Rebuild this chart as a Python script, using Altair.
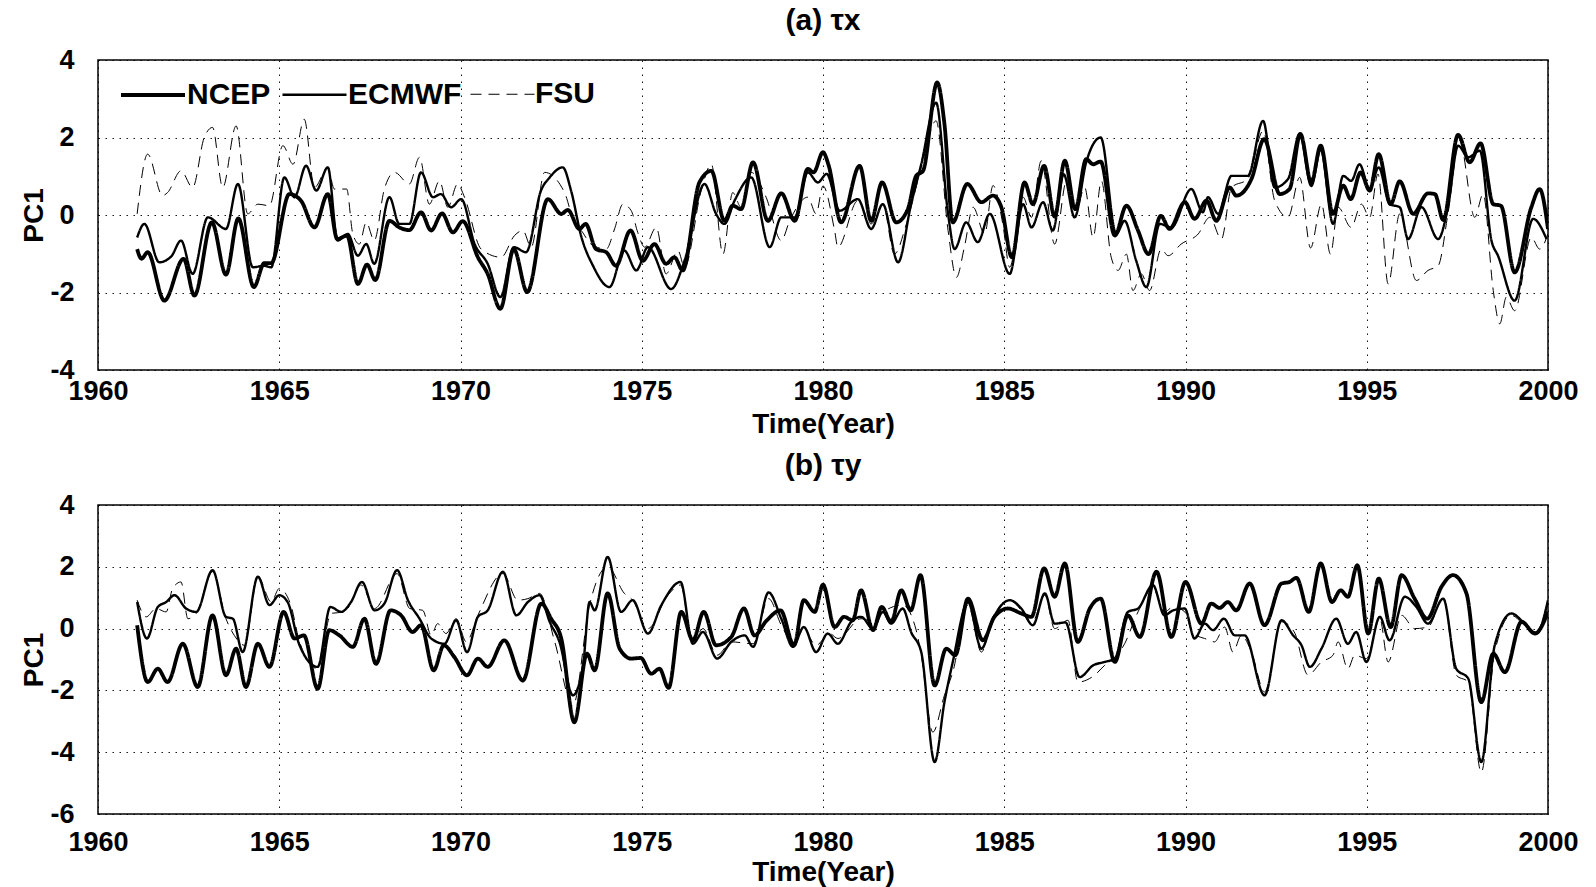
import altair as alt
import pandas as pd

SERIES = ["NCEP", "ECMWF", "FSU"]
X_TICKS = [1960, 1965, 1970, 1975, 1980, 1985, 1990, 1995, 2000]
TOP_Y_TICKS = [-4, -2, 0, 2, 4]
BOT_Y_TICKS = [-6, -4, -2, 0, 2, 4]

# ---------------- (a) tau_x ----------------
TX_NCEP_YEAR = [1961.08, 1961.2, 1961.37, 1961.83, 1962.36, 1962.66, 1963.14, 1963.53, 1963.87, 1964.30,
                1964.59, 1964.78, 1965.28, 1965.6, 1965.97, 1966.34, 1966.6, 1966.87, 1967.17, 1967.42,
                1967.65, 1968.04, 1968.31, 1968.59, 1968.91, 1969.19, 1969.49, 1969.79, 1970.06, 1970.48,
                1970.75, 1971.1, 1971.47, 1971.84, 1972.41, 1972.78, 1972.96, 1973.28, 1973.45, 1973.74,
                1974.02, 1974.29, 1974.69, 1975.03, 1975.35, 1975.67, 1975.90, 1976.13, 1976.59, 1976.92,
                1977.28, 1977.51, 1977.74, 1978.07, 1978.48, 1978.85, 1979.22, 1979.58, 1979.74, 1980.0,
                1980.15, 1980.5, 1981.01, 1981.33, 1981.63, 1982.02, 1982.34, 1982.57, 1982.76, 1983.15,
                1983.35, 1983.58, 1983.98, 1984.37, 1984.69, 1984.92, 1985.21, 1985.56, 1985.79, 1986.1,
                1986.39, 1986.67, 1986.96, 1987.26, 1987.45, 1987.66, 1988.05, 1988.37, 1988.69, 1988.98,
                1989.32, 1989.56, 1989.98, 1990.25, 1990.58, 1990.85, 1991.22, 1991.40, 1991.82, 1992.17,
                1992.6, 1992.87, 1993.17, 1993.47, 1993.73, 1994.07, 1994.35, 1994.56, 1994.83, 1995.08,
                1995.33, 1995.66, 1995.91, 1996.28, 1996.69, 1996.88, 1997.11, 1997.52, 1997.84, 1998.14,
                1998.49, 1998.7, 1999.08, 1999.54, 1999.77, 2000.0]
TX_NCEP_PC1 = [-0.88, -1.13, -0.96, -2.21, -1.13, -2.08, -0.19, -1.54, -0.09, -1.86,
               -1.24, -1.24, 0.54, 0.37, -0.32, 0.54, -0.62, -0.53, -1.78, -1.28,
               -1.68, -0.15, -0.32, -0.39, 0.07, -0.40, 0.04, -0.45, -0.16, -1.09,
               -1.52, -2.42, -0.88, -1.99, 0.41, 0.03, 0.13, -0.36, -0.23, -0.88,
               -0.96, -1.31, -0.40, -1.18, -0.75, -1.26, -1.09, -1.43, 0.84, 1.14,
               -0.15, 0.24, 0.15, 1.36, -0.15, 0.56, -0.15, 1.19, 1.10, 1.62,
               1.30, -0.19, 1.27, -0.15, 0.84, -0.19, 0.15, 1.01, 1.14, 3.42,
               2.35, -0.19, 0.80, 0.33, 0.50, 0.20, -1.09, 0.84, 0.28, 1.27,
               -0.04, 1.40, 0.15, 1.44, 1.31, 1.38, -0.53, 0.24, -0.40, -1.01,
               -0.02, -0.36, 0.33, -0.10, 0.37, -0.15, 0.71, 0.50, 0.93, 1.96,
               0.54, 0.67, 2.09, 0.84, 1.79, 0.03, 0.76, 0.41, 1.10, 0.63,
               1.57, 0.28, 0.87, 0.03, 0.56, 0.54, -0.13, 2.07, 1.36, 1.85,
               0.28, 0.24, -1.48, 0.20, 0.67, -0.36]

TX_ECMWF_YEAR = [1961.08, 1961.28, 1961.69, 1962.02, 1962.29, 1962.61, 1963.03, 1963.53, 1963.86, 1964.27,
                 1964.59, 1964.78, 1965.14, 1965.42, 1965.74, 1966.02, 1966.34, 1966.61, 1966.89, 1967.17,
                 1967.4, 1967.62, 1968.04, 1968.31, 1968.59, 1968.91, 1969.24, 1969.46, 1969.74, 1970.02,
                 1970.39, 1970.75, 1971.1, 1971.47, 1971.81, 1972.22, 1972.46, 1972.82, 1973.05, 1973.33,
                 1973.65, 1974.11, 1974.52, 1974.85, 1975.17, 1975.81, 1976.18, 1976.73, 1977.05, 1977.28,
                 1977.56, 1978.02, 1978.53, 1978.85, 1979.22, 1979.58, 1979.86, 1980.1, 1980.46, 1980.96,
                 1981.33, 1981.65, 1982.07, 1982.43, 1982.71, 1983.12, 1983.45, 1983.63, 1983.95, 1984.27,
                 1984.6, 1985.15, 1985.52, 1985.75, 1986.07, 1986.34, 1986.64, 1986.94, 1987.26, 1987.66,
                 1988.09, 1988.32, 1988.64, 1988.92, 1989.29, 1989.61, 1990.16, 1990.48, 1990.62, 1990.9,
                 1991.27, 1991.72, 1992.14, 1992.46, 1992.83, 1993.15, 1993.47, 1993.73, 1994.07, 1994.35,
                 1994.57, 1994.8, 1995.08, 1995.33, 1995.63, 1995.91, 1996.14, 1996.51, 1996.97, 1997.24,
                 1997.52, 1997.8, 1998.12, 1998.44, 1998.62, 1999.08, 1999.59, 1999.96]
TX_ECMWF_PC1 = [-0.58, -0.23, -1.22, -1.07, -0.66, -1.52, -0.06, -0.36, 0.80, -1.35,
                -1.31, -1.35, 0.97, 0.46, 1.27, 0.63, 1.23, -0.66, -0.49, -1.05,
                -0.75, -1.26, 0.46, -0.23, -0.23, 1.10, 0.46, 0.54, 0.20, 0.41,
                -0.75, -1.26, -2.12, -0.83, -0.96, 0.63, 0.97, 1.23, 0.63, -0.55,
                -1.30, -1.86, -0.92, -1.43, -0.83, -1.91, -1.18, 0.80, 0.03, -0.23,
                0.37, 0.97, -0.83, -0.06, -0.06, 1.10, 0.84, 1.06, 0.11, 0.41,
                -0.36, 0.28, -1.22, 0.28, 1.31, 2.90, 0.03, -0.88, -0.19, -0.70,
                0.03, -1.52, 0.28, -0.32, 0.33, -0.40, 1.05, -0.06, 1.36, 2.00,
                -0.49, -0.15, -1.18, -1.86, -0.23, -0.32, 0.67, 0.07, 0.46, 0.03,
                1.01, 1.01, 2.43, 0.71, 0.93, 2.10, 0.75, 1.70, -0.23, 1.01,
                0.88, 1.31, 0.67, 1.23, 0.28, 0.20, -0.62, 0.20, -0.62, 0.20,
                1.79, 1.49, 1.66, -0.66, -1.05, -2.21, -0.10, -0.62]

TX_FSU_YEAR = [1961.08, 1961.37, 1961.78, 1961.92, 1962.29, 1962.61, 1962.93, 1963.16, 1963.44, 1963.81,
               1964.13, 1964.41, 1964.73, 1965.1, 1965.38, 1965.69, 1965.97, 1966.34, 1966.52, 1966.86,
               1967.03, 1967.21, 1967.4, 1967.62, 1967.9, 1968.18, 1968.59, 1968.87, 1969.14, 1969.42,
               1969.65, 1969.92, 1970.11, 1970.57, 1971.12, 1971.49, 1971.72, 1971.95, 1972.32, 1972.87,
               1973.15, 1973.33, 1973.6, 1974.02, 1974.25, 1974.48, 1974.71, 1974.89, 1975.08, 1975.4,
               1975.67, 1976.0, 1976.18, 1976.64, 1976.92, 1977.24, 1977.51, 1977.74, 1978.02, 1978.43,
               1978.85, 1979.08, 1979.58, 1979.81, 1980.0, 1980.32, 1980.41, 1980.96, 1981.33, 1981.65,
               1981.97, 1982.3, 1982.71, 1983.12, 1983.45, 1983.68, 1983.9, 1984.14, 1984.46, 1984.69,
               1984.96, 1985.15, 1985.52, 1985.75, 1986.02, 1986.39, 1986.73, 1986.94, 1987.22, 1987.45,
               1987.68, 1987.95, 1988.14, 1988.37, 1988.55, 1988.78, 1989.01, 1989.33, 1989.52, 1989.88,
               1990.35, 1990.67, 1990.99, 1991.27, 1991.72, 1992.14, 1992.46, 1992.83, 1993.15, 1993.45,
               1993.75, 1994.0, 1994.21, 1994.57, 1994.85, 1995.08, 1995.31, 1995.59, 1995.91, 1996.37,
               1996.69, 1996.97, 1997.24, 1997.56, 1997.98, 1998.21, 1998.49, 1998.67, 1998.85, 1999.08,
               1999.54, 1999.77, 2000.0]
TX_FSU_PC1 = [0.03, 1.57, 0.50, 0.58, 1.14, 0.71, 2.00, 2.26, 0.71, 2.30,
              0.03, 0.28, 0.24, 1.79, 1.31, 2.47, 0.71, 1.23, 0.67, 0.67,
              -0.49, -0.75, -0.19, -0.66, 0.67, 1.10, 0.80, 1.49, 0.28, 0.88,
              0.20, 0.80, 0.46, -0.88, -1.09, -0.53, -0.40, -0.83, 1.10, 0.58,
              -0.23, -0.40, -0.75, -0.88, -0.36, 0.28, 0.11, -0.45, -0.83, -0.32,
              -1.52, -0.92, -1.35, 0.63, 1.31, -1.01, 0.58, 0.20, 1.10, 0.46,
              -0.66, -0.15, 0.46, 0.03, 0.75, -0.40, -0.83, 0.37, -0.23, 0.28,
              -1.01, -0.23, 1.23, 2.43, -0.40, -1.61, -0.83, 0.20, -0.49, 0.76,
              -0.23, -1.35, 0.46, -0.06, 1.40, -0.75, 0.92, -0.06, 0.71, -0.58,
              0.88, -1.09, -1.43, -1.01, -1.95, -1.52, -1.95, -0.88, -1.05, -0.75,
              -0.49, -0.06, -0.62, 0.71, 0.93, 2.17, 0.37, -0.06, 0.97, -0.85,
              0.28, -1.01, 0.20, -0.32, 0.28, -0.06, 1.06, -1.78, 0.03, -1.69,
              -1.43, -1.31, 0.03, 1.92, -0.06, 0.54, -1.95, -2.81, -2.12, -2.47,
              -0.58, -0.88, -0.49]

# ---------------- (b) tau_y ----------------
TY_NCEP_YEAR = [1961.08, 1961.37, 1961.65, 1961.92, 1962.34, 1962.75, 1963.16, 1963.53, 1963.81, 1964.08,
                1964.41, 1964.73, 1965.12, 1965.42, 1965.68, 1966.06, 1966.38, 1966.66, 1967.03, 1967.35,
                1967.67, 1968.07, 1968.36, 1968.68, 1968.91, 1969.26, 1969.54, 1969.83, 1970.18, 1970.48,
                1970.75, 1971.21, 1971.72, 1972.23, 1972.5, 1972.78, 1973.14, 1973.49, 1973.7, 1974.06,
                1974.39, 1974.71, 1974.97, 1975.26, 1975.49, 1975.74, 1976.09, 1976.41, 1976.71, 1977.05,
                1977.47, 1977.82, 1978.11, 1978.43, 1978.83, 1979.2, 1979.47, 1979.77, 1980.0, 1980.32,
                1980.58, 1980.82, 1981.05, 1981.38, 1981.62, 1981.88, 1982.16, 1982.42, 1982.69, 1983.08,
                1983.4, 1983.65, 1984.0, 1984.41, 1984.73, 1985.1, 1985.47, 1985.75, 1986.1, 1986.39,
                1986.67, 1987.03, 1987.36, 1987.66, 1988.05, 1988.41, 1988.74, 1989.2, 1989.61, 1990.0,
                1990.44, 1990.71, 1990.94, 1991.17, 1991.4, 1991.77, 1992.18, 1992.65, 1992.87, 1993.06,
                1993.4, 1993.73, 1994.04, 1994.28, 1994.48, 1994.74, 1995.04, 1995.33, 1995.66, 1995.96,
                1996.32, 1996.67, 1997.06, 1997.38, 1997.75, 1998.16, 1998.49, 1998.81, 1999.27, 1999.64,
                2000.0]
TY_NCEP_PC1 = [0.11, -1.73, -1.30, -1.73, -0.49, -1.89, 0.43, -1.51, -0.65, -1.89,
               -0.49, -1.24, 0.54, -0.32, -0.22, -1.95, -0.05, -0.22, -0.59, 0.32,
               -1.14, 0.59, 0.43, -0.11, 0.11, -1.35, -0.54, -0.92, -1.51, -0.97,
               -1.24, -0.38, -1.68, 0.81, 0.32, -0.32, -3.03, -0.81, -1.35, 1.14,
               -0.65, -0.97, -0.95, -1.46, -1.30, -1.92, 0.54, -0.38, 0.54, -0.54,
               -0.27, 0.65, -0.22, 0.24, 0.59, -0.54, 0.92, 0.54, 1.42, 0.05,
               0.38, 0.27, 1.24, -0.05, 0.70, 0.22, 1.24, 0.59, 1.73, -1.84,
               -0.65, -0.86, 0.97, -0.38, 0.38, 0.65, 0.49, 0.38, 1.95, 1.03,
               2.11, -0.43, 0.65, 0.97, -1.08, 0.43, -0.27, 1.84, -0.27, 1.51,
               0.16, 0.81, 0.67, 0.86, 0.59, 1.46, 0.11, 1.46, 1.51, 1.64,
               0.54, 2.11, 0.86, 1.24, 1.03, 2.05, -0.16, 1.62, 0.05, 1.73,
               0.97, 0.32, 1.35, 1.73, 1.14, -2.38, -0.81, -1.41, 0.22, -0.16,
               0.54]

TY_ECMWF_YEAR = [1961.08, 1961.35, 1961.65, 1961.88, 1962.11, 1962.43, 1962.71, 1963.16, 1963.53, 1963.72,
                 1963.99, 1964.41, 1964.73, 1965.0, 1965.23, 1965.56, 1966.06, 1966.41, 1966.71, 1966.98,
                 1967.28, 1967.63, 1967.9, 1968.25, 1968.55, 1968.87, 1969.19, 1969.56, 1969.88, 1970.18,
                 1970.48, 1970.75, 1971.17, 1971.54, 1971.86, 1972.18, 1972.46, 1972.73, 1973.1, 1973.38,
                 1973.56, 1973.7, 1974.06, 1974.43, 1974.75, 1975.17, 1975.54, 1976.07, 1976.41, 1976.69,
                 1977.08, 1977.47, 1977.84, 1978.07, 1978.5, 1978.85, 1979.17, 1979.47, 1979.81, 1980.13,
                 1980.41, 1980.78, 1981.05, 1981.38, 1981.65, 1981.88, 1982.2, 1982.43, 1982.71, 1983.08,
                 1983.35, 1983.58, 1984.0, 1984.37, 1984.69, 1985.15, 1985.47, 1985.79, 1986.12, 1986.39,
                 1986.69, 1987.08, 1987.45, 1987.77, 1988.05, 1988.41, 1988.69, 1989.1, 1989.42, 1989.66,
                 1989.98, 1990.25, 1990.53, 1990.76, 1991.06, 1991.36, 1991.63, 1992.18, 1992.65, 1992.97,
                 1993.2, 1993.43, 1993.75, 1994.16, 1994.48, 1994.71, 1994.99, 1995.36, 1995.63, 1996.05,
                 1996.37, 1996.69, 1997.11, 1997.47, 1997.8, 1998.16, 1998.53, 1998.99, 1999.31, 1999.68,
                 2000.0]
TY_ECMWF_PC1 = [0.86, -0.32, 0.70, 0.86, 1.08, 0.65, 0.54, 1.89, 0.38, 0.32,
                -0.76, 1.68, 0.76, 1.08, 0.86, -0.54, -1.24, 0.70, 0.54, 0.86,
                1.51, 0.59, 0.81, 1.89, 0.92, 0.32, -0.32, -0.49, 0.27, -0.76,
                0.38, 0.59, 1.84, 0.43, 0.86, 1.08, 0.22, -0.43, -2.16, -1.19,
                0.86, 0.59, 2.32, 0.54, 0.92, -0.16, 0.76, 1.51, -0.49, -0.11,
                -0.97, -0.43, -0.22, -0.59, 1.17, 0.32, -0.59, 0.05, -0.76, -0.16,
                -0.49, 0.22, 0.38, 0.00, 0.54, 0.16, 0.65, -0.11, -0.76, -4.32,
                -2.38, -1.08, 0.86, -0.65, 0.32, 0.92, 0.65, 0.11, 1.14, 0.16,
                0.20, -1.57, -1.19, -1.08, -0.97, 0.54, 0.65, 1.41, 0.43, 0.59,
                0.65, -0.32, 0.16, -0.05, 0.32, -0.22, -0.22, -2.16, 0.27, -0.22,
                -0.54, -1.24, -0.65, 0.32, -0.49, -0.11, -1.08, 0.38, -0.38, 1.03,
                0.70, 0.16, 0.97, -1.30, -1.62, -4.32, -0.54, 0.49, 0.22, -0.16,
                0.92]

TY_FSU_YEAR = [1961.08, 1961.33, 1961.6, 1961.88, 1962.06, 1962.29, 1962.48, 1962.71, 1963.16, 1963.53,
               1963.76, 1964.04, 1964.41, 1964.78, 1965.0, 1965.32, 1965.56, 1966.06, 1966.43, 1966.8,
               1967.26, 1967.63, 1968.25, 1968.6, 1968.96, 1969.19, 1969.37, 1969.6, 1969.88, 1970.16,
               1970.48, 1971.17, 1971.58, 1971.86, 1972.18, 1972.6, 1973.1, 1973.56, 1974.06, 1974.52,
               1974.75, 1975.17, 1975.72, 1976.07, 1976.41, 1976.69, 1977.08, 1977.47, 1978.07, 1978.5,
               1978.85, 1979.17, 1979.47, 1979.81, 1980.18, 1980.41, 1981.05, 1981.42, 1981.6, 1982.2,
               1982.57, 1982.71, 1983.03, 1983.35, 1983.58, 1984.0, 1984.37, 1984.69, 1985.15, 1985.47,
               1985.75, 1986.12, 1986.39, 1986.76, 1987.03, 1987.49, 1987.77, 1988.05, 1988.32, 1988.69,
               1989.1, 1989.42, 1989.66, 1989.98, 1990.2, 1990.53, 1990.8, 1991.08, 1991.31, 1991.54,
               1991.82, 1992.18, 1992.65, 1993.0, 1993.38, 1993.75, 1994.07, 1994.21, 1994.48, 1994.67,
               1994.99, 1995.36, 1995.59, 1995.96, 1996.32, 1996.69, 1997.11, 1997.47, 1997.8, 1998.16,
               1998.53, 1998.99, 1999.31, 1999.68, 2000.0]
TY_FSU_PC1 = [0.92, 0.38, 0.65, 0.54, 1.30, 1.51, 0.32, 0.49, 1.84, 0.32,
              -0.22, -0.54, 1.68, 0.86, 1.30, 0.76, -0.43, -1.30, 0.49, 0.54,
              1.41, 0.65, 1.78, 0.65, 0.59, -0.22, 0.16, -0.16, 0.32, -0.43,
              0.43, 1.78, 0.92, 0.97, 1.14, -0.43, -2.49, 0.76, 2.00, 1.14,
              0.92, 0.00, 1.08, 1.41, -0.43, 0.00, -0.86, -0.43, -0.49, 0.97,
              0.11, -0.43, -0.05, -0.54, -0.16, -0.32, 0.32, 0.22, 0.49, 0.76,
              -0.05, -0.86, -3.35, -2.16, -1.41, 0.76, -0.76, 0.38, 0.92, 0.59,
              0.16, 1.08, 0.00, 0.27, -1.73, -1.51, -1.19, -0.97, -0.49, 0.54,
              1.30, 0.54, 0.70, 0.54, -0.16, -0.32, -0.43, 0.05, -0.76, -0.22,
              -0.76, -2.05, 0.22, -0.11, -1.50, -1.08, -0.86, -0.43, -1.30, -0.86,
              -0.97, 0.32, -1.08, 0.43, 0.00, 0.05, 0.97, -1.51, -1.73, -4.65,
              -0.76, 0.43, 0.16, -0.11, 0.86]


def make_df(parts):
    rows = []
    for name, years, vals in parts:
        for i, (yr, v) in enumerate(zip(years, vals)):
            rows.append({"series": name, "year": yr, "pc1": v, "idx": i})
    return pd.DataFrame(rows)


df_top = make_df([("FSU", TX_FSU_YEAR, TX_FSU_PC1),
                  ("ECMWF", TX_ECMWF_YEAR, TX_ECMWF_PC1),
                  ("NCEP", TX_NCEP_YEAR, TX_NCEP_PC1)])
df_bot = make_df([("FSU", TY_FSU_YEAR, TY_FSU_PC1),
                  ("ECMWF", TY_ECMWF_YEAR, TY_ECMWF_PC1),
                  ("NCEP", TY_NCEP_YEAR, TY_NCEP_PC1)])

FONT = "Liberation Sans"
LABEL_EXPR = "'' + datum.value"


def panel(df, title, ydom, yticks, height, show_legend, x_label_pad, x_title_pad):
    if show_legend:
        leg = alt.Legend(title=None, orient="none", legendX=21, legendY=1, direction="horizontal",
                         symbolType="stroke", symbolSize=4096, labelFontSize=30, labelFont=FONT,
                         labelFontWeight="bold", labelColor="black", labelOffset=0,
                         columnPadding=6, padding=0, symbolStrokeColor="black")
    else:
        leg = None
    return alt.Chart(df).mark_line(interpolate="monotone", color="black", clip=True).encode(
        x=alt.X("year:Q", scale=alt.Scale(domain=[1960, 2000], nice=False, zero=False),
                axis=alt.Axis(values=X_TICKS, labelExpr=LABEL_EXPR, title="Time(Year)",
                              labelFlush=False, labelPadding=x_label_pad, titlePadding=x_title_pad)),
        y=alt.Y("pc1:Q", scale=alt.Scale(domain=ydom, nice=False, zero=False),
                axis=alt.Axis(values=yticks, labelExpr=LABEL_EXPR, title="PC1", labelFlush=False)),
        strokeDash=alt.StrokeDash("series:N", sort=SERIES,
                                  scale=alt.Scale(domain=SERIES, range=[[1, 0], [1, 0], [11, 7]]),
                                  legend=leg),
        strokeWidth=alt.StrokeWidth("series:N", sort=SERIES,
                                    scale=alt.Scale(domain=SERIES, range=[3.8, 1.0, 1.0]),
                                    legend=leg),
        order=alt.Order("idx:Q"),
    ).properties(
        width=1450, height=height,
        title=alt.TitleParams(title, fontSize=30, font=FONT, fontWeight="bold", color="black", offset=10),
    )


top = panel(df_top, "(a) \u03c4x", [-4, 4], TOP_Y_TICKS, 310, True, 8, 6)
bot = panel(df_bot, "(b) \u03c4y", [-6, 4], BOT_Y_TICKS, 309, False, 15, 3)

chart = alt.vconcat(top, bot, spacing=135, bounds="flush").resolve_scale(
    strokeDash="independent", strokeWidth="independent"
).resolve_legend(strokeDash="independent", strokeWidth="independent").properties(
    padding={"left": 20, "top": 5, "right": 10, "bottom": 5},
    background="white",
).configure_view(
    stroke="black", strokeWidth=1.5
).configure_axis(
    labelFont=FONT, labelFontSize=27, labelFontWeight="bold", labelColor="black",
    titleFont=FONT, titleFontSize=28, titleFontWeight="bold", titleColor="black",
    grid=True, gridColor="black", gridDash=[1.5, 5.5], gridWidth=1, gridOpacity=0.9,
    domain=False, ticks=False,
).configure_axisY(
    labelPadding=24, titlePadding=1,
)

chart.save("out.html", embed_options={"renderer": "svg", "actions": False})
